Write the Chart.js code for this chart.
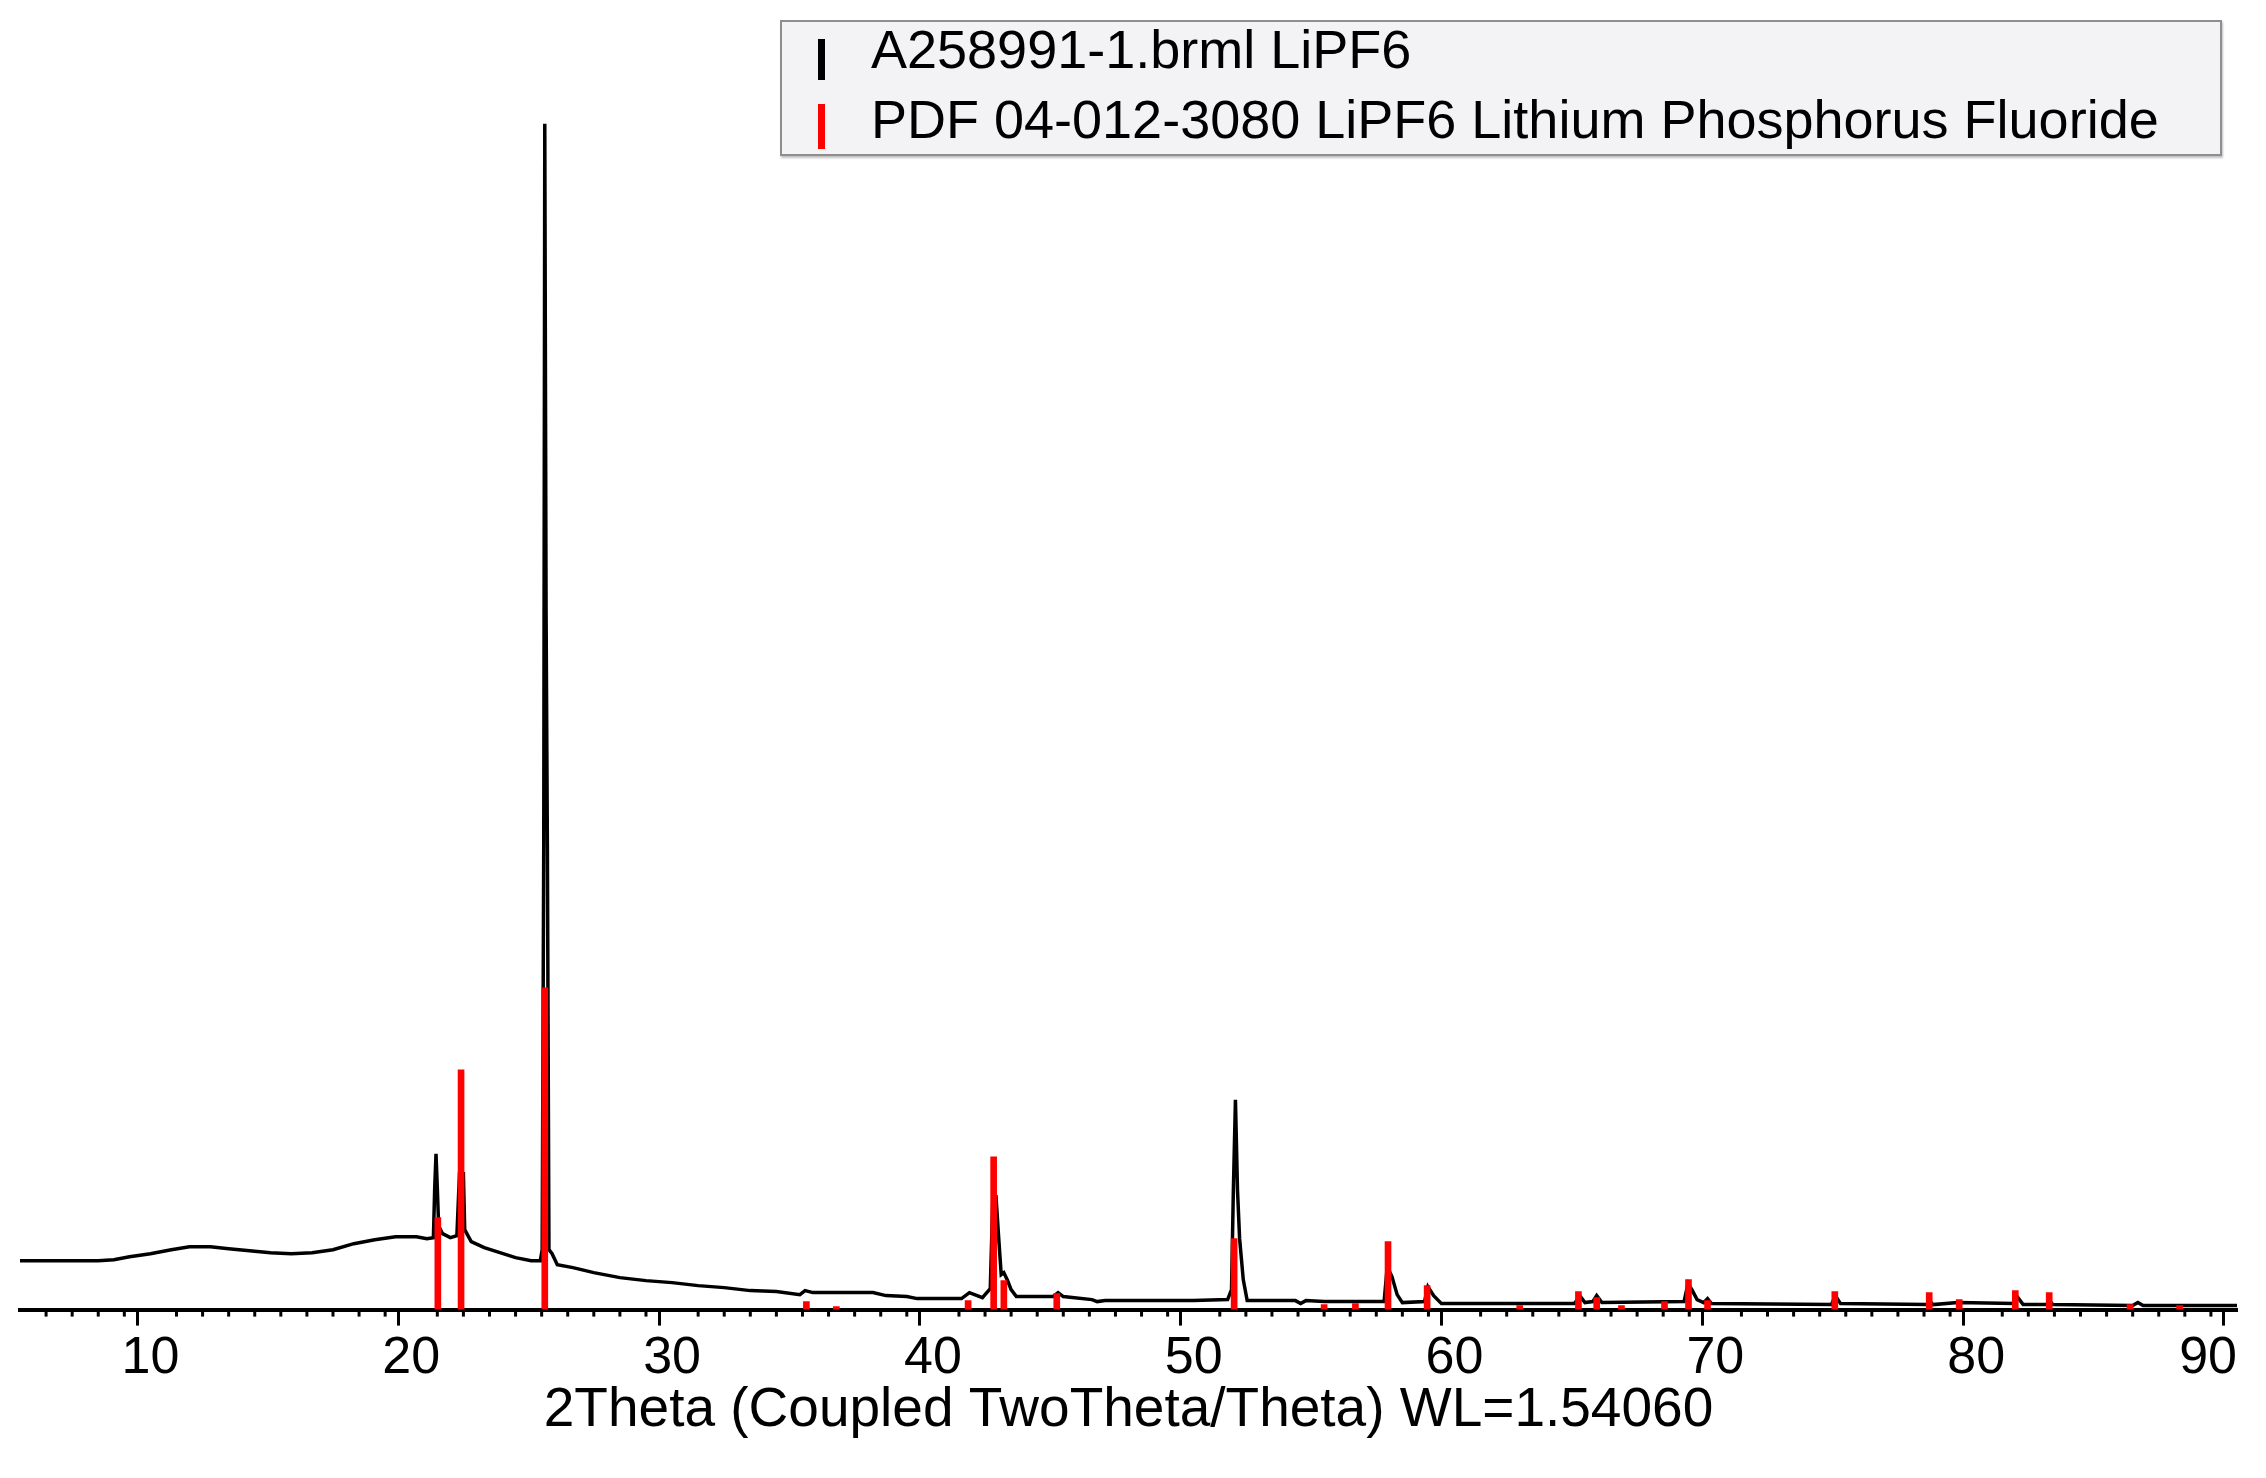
<!DOCTYPE html>
<html>
<head>
<meta charset="utf-8">
<title>XRD LiPF6</title>
<script src="https://cdn.jsdelivr.net/npm/chart.js@4.4.1/dist/chart.umd.min.js"></script>
<style>
  html, body { margin: 0; padding: 0; background: #fff; }
  #wrap { position: relative; width: 2266px; height: 1478px; }
  #leyenda {
    position: absolute; left: 780px; top: 20px; width: 1438px; height: 132px;
    background: #f3f3f5; border: 2px solid #8e8e8e;
    box-shadow: 1px 2px 2px rgba(0,0,0,0.25);
    font-family: 'Liberation Sans', Arial, sans-serif; font-size: 54px; color: #000;
  }
  .fila { position: absolute; left: 0; height: 60px; }
  .marca { position: absolute; left: 36px; width: 7px; }
  .texto { position: absolute; left: 89px; white-space: nowrap; line-height: 60px; }
</style>
</head>
<body>
<div id="wrap">
  <canvas id="graficoXRD" width="2266" height="1478"></canvas>
  <div id="leyenda"></div>
</div>
<script>
// measured pattern (2theta in degrees, intensity in arbitrary units)
var xrdAngle = [5.0, 6.0, 7.0, 8.0, 8.6, 9.2, 10.0, 10.8, 11.5, 12.3, 13.0, 13.8, 14.6, 15.4, 16.2, 17.0, 17.8, 18.6, 19.4, 20.2,
  20.6, 20.85, 20.9, 20.95, 21.0, 21.05, 21.2, 21.5, 21.75, 21.85, 22.0, 22.05, 22.3, 22.8, 23.4, 24.0, 24.6, 24.95,
  25.02, 25.08, 25.12, 25.17, 25.22, 25.28, 25.4, 25.6, 26.2, 27.0, 28.0, 29.0, 30.0, 31.0, 32.0, 33.0, 34.0, 34.9,
  35.1, 35.4, 36.5, 37.7, 38.2, 39.0, 39.4, 41.1, 41.4, 41.9, 42.2, 42.3, 42.42, 42.52, 42.62, 42.72, 42.85, 43.0,
  43.2, 44.6, 44.8, 45.0, 46.1, 46.3, 46.6, 50.0, 51.3, 51.45, 51.52, 51.6, 51.68, 51.76, 51.9, 52.05, 53.9, 54.1,
  54.3, 55.0, 56.0, 57.3, 57.42, 57.6, 57.8, 58.0, 58.85, 58.98, 59.2, 59.5, 62.0, 64.6, 64.8, 65.0, 65.3, 65.45,
  65.65, 68.8, 68.95, 69.1, 69.3, 69.55, 69.7, 69.85, 74.45, 74.6, 74.8, 78.1, 78.2, 78.35, 79.3, 81.45, 81.6, 81.8,
  82.7, 82.8, 82.95, 86.0, 86.2, 86.4, 90.0];
var xrdIntensity = [49, 49, 49, 49, 50, 53, 56, 60, 63, 63, 61, 59, 57, 56, 57, 60, 66, 70, 73, 73,
  71, 72, 122, 156, 122, 84, 76, 72, 74, 136, 136, 80, 68, 62, 57, 52, 49, 49,
  60, 464, 1187, 699, 464, 60, 56, 45, 42, 37, 32, 29, 27, 24, 22, 19, 18, 15,
  19, 17, 17, 17, 14, 13, 11, 11, 17, 12, 21, 113, 113, 73, 35, 37, 30, 20,
  13, 13, 17, 13, 10, 8, 9, 9, 10, 20, 119, 210, 119, 71, 30, 9, 9, 6,
  9, 8, 8, 8, 43, 33, 15, 7, 8, 23, 14, 6, 6, 6, 14, 7, 8, 14,
  7, 8, 26, 20, 10, 7, 11, 6, 5, 14, 6, 5, 9, 5, 7, 6, 12, 5,
  5, 9, 5, 4, 7, 4, 4];

// PDF 04-012-3080 reference sticks
var refAngle = [21.02, 21.91, 25.12, 35.15, 36.3, 41.35, 42.33, 42.72, 44.75, 51.55, 55.0, 56.2, 57.45, 58.95,
  62.5, 64.75, 65.45, 66.4, 68.05, 68.97, 69.7, 74.58, 78.2, 79.35, 81.5, 82.8, 85.9, 87.8];
var refIntensity = [92, 240, 322, 8, 3, 9, 153, 29, 16, 71, 5, 6, 68, 24,
  4, 18, 12, 4, 8, 30, 9, 18, 17, 10, 19, 17, 5, 4];

var serieLabels = ['A258991-1.brml LiPF6', 'PDF 04-012-3080 LiPF6 Lithium Phosphorus Fluoride'];
var serieColors = ['#000000', '#ff0000'];
var ejeTitulo = '2Theta (Coupled TwoTheta/Theta) WL=1.54060';
var xMin = 5, xMax = 90, yMax = 1311;

function puntos(xs, ys) {
  var out = [];
  for (var i = 0; i < xs.length; i++) out.push({ x: xs[i], y: ys[i] });
  return out;
}

Chart.defaults.font.family = "'Liberation Sans', Arial, sans-serif";
Chart.defaults.color = '#000';

// short minor ticks every degree, the grid only draws the long ones
var ticksMenores = {
  id: 'ticksMenores',
  afterDraw: function (chart) {
    var sx = chart.scales.x, ctx = chart.ctx, y0 = chart.chartArea.bottom;
    ctx.save();
    ctx.strokeStyle = '#000';
    ctx.lineWidth = 3;
    sx.ticks.forEach(function (t) {
      if (t.value % 10 === 0 || t.value === xMin || t.value === xMax) return;
      var px = sx.getPixelForValue(t.value);
      ctx.beginPath();
      ctx.moveTo(px, y0);
      ctx.lineTo(px, y0 + 7);
      ctx.stroke();
    });
    ctx.restore();
  }
};

var ctx = document.getElementById('graficoXRD').getContext('2d');
var graficoXRD = new Chart(ctx, {
  type: 'line',
  data: {
    datasets: [{
      type: 'line',
      label: serieLabels[0],
      data: puntos(xrdAngle, xrdIntensity),
      borderColor: serieColors[0],
      borderWidth: 3.5,
      pointRadius: 0,
      tension: 0,
      order: 1
    }, {
      type: 'bar',
      label: serieLabels[1],
      data: puntos(refAngle, refIntensity),
      backgroundColor: serieColors[1],
      barThickness: 6,
      grouped: false,
      order: 0
    }]
  },
  options: {
    responsive: false,
    animation: false,
    layout: { padding: { left: 20, right: 29, top: 0, bottom: 20 } },
    plugins: {
      legend: { display: false },
      tooltip: { enabled: false }
    },
    scales: {
      x: {
        type: 'linear',
        min: xMin,
        max: xMax,
        offset: false,
        border: { display: true, color: '#000', width: 4 },
        grid: {
          drawOnChartArea: false,
          drawTicks: true,
          tickLength: 16,
          tickWidth: 3,
          tickColor: function (c) {
            return c.tick && c.tick.value % 10 === 0 ? '#000' : 'rgba(0,0,0,0)';
          }
        },
        ticks: {
          stepSize: 1,
          autoSkip: false,
          maxRotation: 0,
          align: 'inner',
          padding: 2,
          font: { size: 52 },
          callback: function (v) { return v % 10 === 0 ? String(v) : ''; }
        },
        title: {
          display: true,
          text: ejeTitulo,
          font: { size: 55 },
          padding: { top: -14, bottom: 14 }
        }
      },
      y: {
        display: false,
        min: 0,
        max: yMax
      }
    }
  },
  plugins: [ticksMenores]
});

// legend box built from the dataset labels
var leyenda = document.getElementById('leyenda');
var tops = [-3, 67];
var barras = [[17, 41], [82, 45]];
graficoXRD.data.datasets.forEach(function (ds, i) {
  var fila = document.createElement('div');
  fila.className = 'fila';
  fila.style.top = tops[i] + 'px';
  var m = document.createElement('div');
  m.className = 'marca';
  m.style.background = serieColors[i];
  m.style.top = (barras[i][0] - tops[i]) + 'px';
  m.style.height = barras[i][1] + 'px';
  var t = document.createElement('div');
  t.className = 'texto';
  t.textContent = ds.label;
  fila.appendChild(m);
  fila.appendChild(t);
  leyenda.appendChild(fila);
});
</script>
</body>
</html>
